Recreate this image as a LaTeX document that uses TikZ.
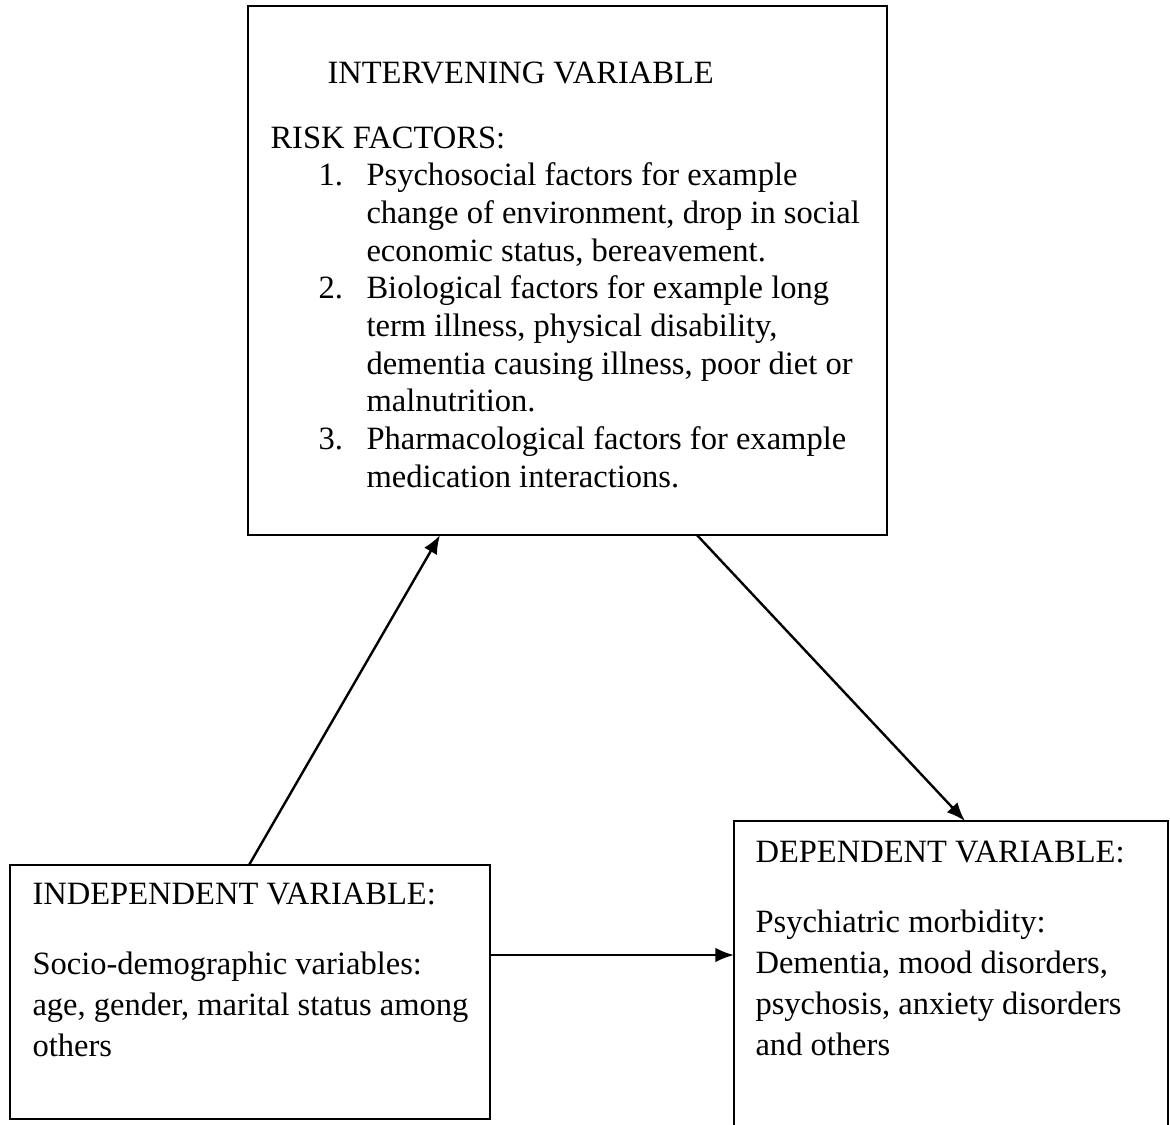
\documentclass[tikz,border=0pt]{standalone}
\usepackage{fontspec}
\setmainfont{Liberation Serif}
\usetikzlibrary{calc,arrows.meta}

\begin{document}
\begin{tikzpicture}[x=0.375pt, y=-0.375pt, >={Latex[length=7pt,width=5.5pt]},
    box/.style={draw, line width=0.75pt, anchor=north west, inner sep=0pt, outer sep=0pt},
    txt/.style={anchor=base west, inner sep=0pt, font=\fontsize{12.2pt}{14pt}\selectfont},
    link/.style={->, line width=0.9pt}]

    \useasboundingbox (0,0) rectangle (1170,1124);

    \node[box, minimum width=239.6pt, minimum height=198.4pt] (iv) at (248,6) {};
    \node[box, minimum width=180pt, minimum height=95.3pt] (indep) at (10,865) {};
    \node[box, minimum width=162.8pt, minimum height=120pt] (dep) at (734,821) {};

    \node[txt] (ivhead) at (327,83) {INTERVENING VARIABLE};
    \node[txt] (risk) at (270,148) {RISK FACTORS:};
    \foreach \n/\r in {1/0, 2/3, 3/7} {
        \node[txt] (num\n) at (318,185.7+37.7*\r) {\n.};
    }
    \foreach \r/\t in {0/{Psychosocial factors for example},
                       1/{change of environment, drop in social},
                       2/{economic status, bereavement.},
                       3/{Biological factors for example long},
                       4/{term illness, physical disability,},
                       5/{dementia causing illness, poor diet or},
                       6/{malnutrition.},
                       7/{Pharmacological factors for example},
                       8/{medication interactions.}} {
        \node[txt] (rl\r) at (366,185.7+37.7*\r) {\t};
    }

    \node[txt] (indephead) at (32,904) {INDEPENDENT VARIABLE:};
    \node[txt] (il0) at (32,974) {Socio-demographic variables:};
    \node[txt] (il1) at (32,1015) {age, gender, marital status among};
    \node[txt] (il2) at (32,1056) {others};

    \node[txt] (dephead) at (755,862) {DEPENDENT VARIABLE:};
    \node[txt] (dl0) at (755,932) {Psychiatric morbidity:};
    \node[txt] (dl1) at (755,973) {Dementia, mood disorders,};
    \node[txt] (dl2) at (755,1014) {psychosis, anxiety disorders};
    \node[txt] (dl3) at (755,1055) {and others};

    \draw[link] ($(indep.north west)+(239,0)$) -- ($(iv.south west)+(192,0)$);
    \draw[link] ($(iv.south west)+(449,0)$) -- ($(dep.north west)+(231,0)$);
    \draw[link] ($(indep.north east)+(0,90)$) -- ($(dep.north west)+(0,134)$);

\end{tikzpicture}
\end{document}
